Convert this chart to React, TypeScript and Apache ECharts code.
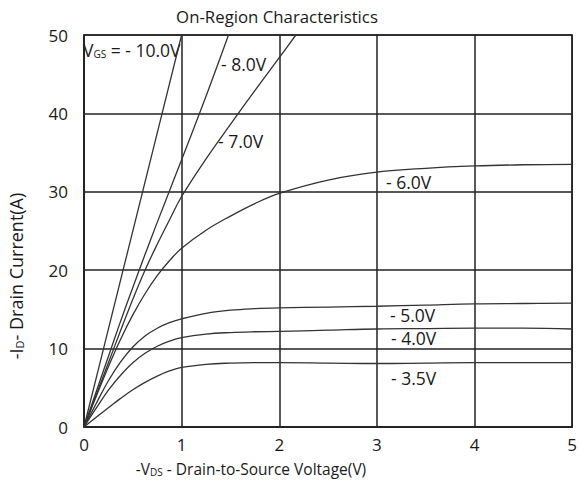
import React, { useEffect, useRef } from "react";
import * as echarts from "echarts";

// -VDS (V) / -ID (A)
const vds10 = [0, 0.2, 0.4, 0.6, 0.8, 1.0];
const id10 = [0, 10, 20, 30, 40, 50];

const vds8 = [0, 0.125, 0.25, 0.375, 0.5, 0.625, 0.75, 0.875, 1, 1.25, 1.48];
const id8 = [0, 4.5, 9, 13.5, 17.8, 22, 26.1, 30.1, 34.1, 42.2, 50];

const vds7 = [0, 0.125, 0.25, 0.375, 0.5, 0.625, 0.75, 0.875, 1, 1.25, 1.5, 1.75, 2, 2.17];
const id7 = [0, 4.1, 8.2, 12.3, 16.3, 20.0, 23.3, 26.4, 29.4, 34.2, 38.6, 42.9, 47.1, 50];

const vds6 = [0, 0.125, 0.25, 0.375, 0.5, 0.625, 0.75, 0.875, 1, 1.25, 1.5, 1.75, 2, 2.5, 3, 3.5, 4, 4.5, 5];
const id6 = [0, 3.9, 7.7, 11.2, 14.3, 17.0, 19.3, 21.2, 22.8, 25.1, 26.9, 28.5, 29.8, 31.5, 32.5, 33.0, 33.3, 33.45, 33.5];

const vds5 = [0, 0.125, 0.25, 0.375, 0.5, 0.625, 0.75, 0.875, 1, 1.25, 1.5, 1.75, 2, 2.5, 3, 3.5, 4, 4.5, 5];
const id5 = [0, 3.0, 5.9, 8.3, 10.2, 11.6, 12.6, 13.3, 13.8, 14.5, 14.9, 15.1, 15.2, 15.3, 15.4, 15.55, 15.7, 15.75, 15.8];

const vds4 = [0, 0.125, 0.25, 0.375, 0.5, 0.625, 0.75, 0.875, 1, 1.25, 1.5, 1.75, 2, 2.5, 3, 3.5, 4, 4.5, 5];
const id4 = [0, 2.4, 4.7, 6.6, 8.2, 9.4, 10.3, 10.95, 11.4, 11.85, 12.05, 12.15, 12.2, 12.35, 12.5, 12.55, 12.6, 12.6, 12.5];

const vds35 = [0, 0.125, 0.25, 0.375, 0.5, 0.625, 0.75, 0.875, 1, 1.25, 1.5, 1.75, 2, 2.5, 3, 3.5, 4, 4.5, 5];
const id35 = [0, 1.25, 2.45, 3.65, 4.75, 5.7, 6.5, 7.15, 7.6, 8.0, 8.15, 8.2, 8.2, 8.15, 8.1, 8.15, 8.2, 8.2, 8.2];

const xTicks = [0, 1, 2, 3, 4, 5];
const yTicks = [0, 10, 20, 30, 40, 50];

const curveNames = ["-10.0V", "-8.0V", "-7.0V", "-6.0V", "-5.0V", "-4.0V", "-3.5V"];
const curveX = [vds10, vds8, vds7, vds6, vds5, vds4, vds35];
const curveY = [id10, id8, id7, id6, id5, id4, id35];
const curveSmooth = [0, 0.4, 0.4, 0.4, 0.4, 0.4, 0.4];

const titleText = "On-Region Characteristics";

const FONT = "'Open Sans', Lato, sans-serif";
const INK = "#1a1a1a";

export default function App() {
  const ref = useRef<HTMLDivElement>(null);

  useEffect(() => {
    if (!ref.current) return;
    const chart = echarts.init(ref.current, undefined, { renderer: "svg" });

    const series = curveNames.map((name, i) => ({
      name,
      type: "line",
      data: curveX[i].map((x, j) => [x, curveY[i][j]]),
      showSymbol: false,
      smooth: curveSmooth[i],
      lineStyle: { color: "#333", width: 1.3 },
      clip: true,
    }));

    const label = (text: string, x: number, y: number) => ({
      type: "text",
      x,
      y,
      style: {
        text,
        fill: INK,
        font: `17.5px ${FONT}`,
        textVerticalAlign: "middle",
      },
    });

    chart.setOption({
      animation: false,
      backgroundColor: "#ffffff",
      grid: {
        left: 84,
        right: 5,
        top: 35,
        bottom: 62,
        show: true,
        borderColor: "#222",
        borderWidth: 1.5,
      },
      xAxis: {
        type: "value",
        min: xTicks[0],
        max: xTicks[xTicks.length - 1],
        interval: 1,
        axisLine: { show: true, lineStyle: { color: "#222", width: 1.5 } },
        axisTick: { show: false },
        axisLabel: { color: INK, fontSize: 17, fontFamily: FONT, margin: 9 },
        splitLine: { show: true, lineStyle: { color: "#222", width: 1.5 } },
      },
      yAxis: {
        type: "value",
        min: yTicks[0],
        max: yTicks[yTicks.length - 1],
        interval: 10,
        axisLine: { show: true, lineStyle: { color: "#222", width: 1.5 } },
        axisTick: { show: false },
        axisLabel: { color: INK, fontSize: 17, fontFamily: FONT, margin: 16 },
        splitLine: { show: true, lineStyle: { color: "#222", width: 1.5 } },
      },
      series,
      graphic: [
        {
          type: "text",
          x: 277,
          y: 16,
          style: {
            text: titleText,
            fill: INK,
            font: `16.8px ${FONT}`,
            textAlign: "center",
            textVerticalAlign: "middle",
          },
        },
        {
          type: "text",
          x: 83,
          y: 50,
          style: {
            text: "{v|V}{s|GS}{v| = - 10.0V}",
            fill: INK,
            textVerticalAlign: "middle",
            rich: {
              v: { fontSize: 17.5, fontFamily: FONT, fill: INK },
              s: { fontSize: 10, fontFamily: FONT, fill: INK, padding: [8, 0, 0, 0] },
            },
          },
        },
        label("- 8.0V", 221, 64),
        label("- 7.0V", 218, 141),
        label("- 6.0V", 386, 182),
        label("- 5.0V", 390, 315),
        label("- 4.0V", 391, 338),
        label("- 3.5V", 391, 378),
        {
          type: "text",
          x: 251,
          y: 469,
          style: {
            text: "{v|-V}{s|DS}{v| - Drain-to-Source Voltage(V)}",
            fill: INK,
            textAlign: "center",
            textVerticalAlign: "middle",
            rich: {
              v: { fontSize: 15.5, fontFamily: FONT, fill: INK },
              s: { fontSize: 10, fontFamily: FONT, fill: INK, padding: [5, 0, 0, 0] },
            },
          },
        },
        {
          type: "text",
          x: 16,
          y: 276,
          rotation: Math.PI / 2,
          style: {
            text: "{v|-I}{s|D}{v|- Drain Current(A)}",
            fill: INK,
            textAlign: "center",
            textVerticalAlign: "middle",
            rich: {
              v: { fontSize: 18, fontFamily: FONT, fill: INK },
              s: { fontSize: 11, fontFamily: FONT, fill: INK, padding: [6, 0, 0, 0] },
            },
          },
        },
      ],
    });

    return () => chart.dispose();
  }, []);

  return (
    <div
      ref={ref}
      style={{ position: "fixed", left: 0, top: 0, width: 580, height: 489, background: "#fff" }}
    />
  );
}
